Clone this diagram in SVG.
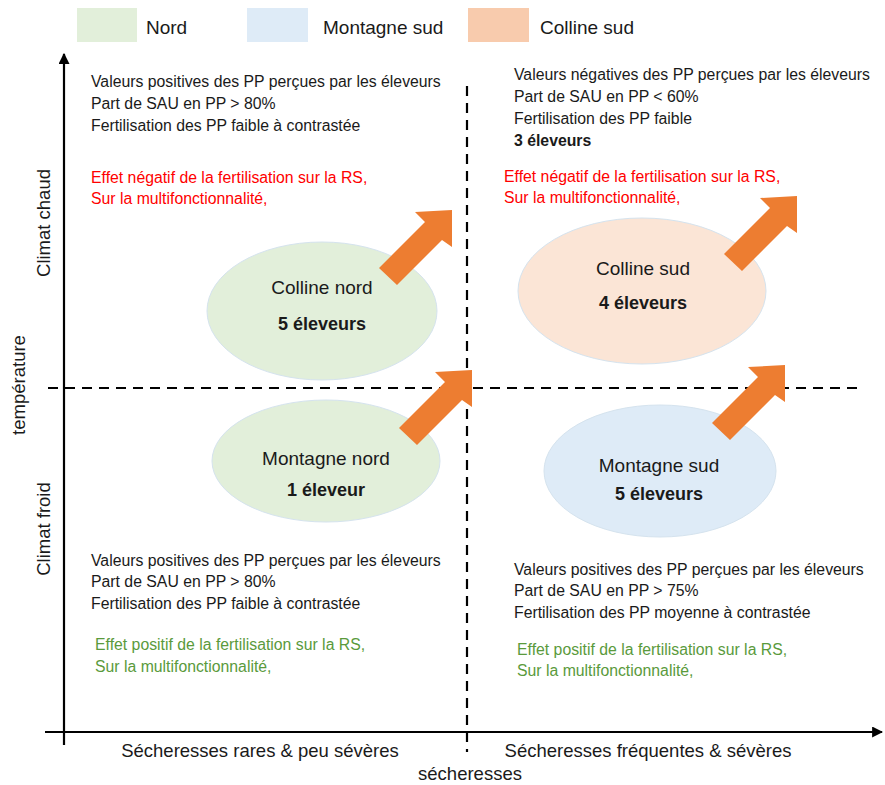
<svg xmlns="http://www.w3.org/2000/svg" width="885" height="785" viewBox="0 0 885 785">
<style>
text{font-family:"Liberation Sans",Arial,sans-serif;fill:#1a1a1a}
.t{font-size:15.8px}
.red{fill:#ff0000}
.grn{fill:#5a9a3c}
.lbl{font-size:18.5px}
.leg{font-size:19px}
.el{font-size:19px}
.b{font-weight:bold;font-size:18px}
.tb{font-weight:bold}
.ax{stroke:#000;stroke-width:2.2;fill:none}
.dash{stroke:#000;stroke-width:2.2;stroke-dasharray:10 7;fill:none}
.arr{fill:#ed7d31}
.eg{fill:#e2efda;stroke:#d5e3ee;stroke-width:1}
.eb{fill:#deebf7;stroke:#d5e3ee;stroke-width:1}
.ep{fill:#fbe5d6;stroke:#d5e3ee;stroke-width:1}
</style>
<defs>
<marker id="ah" viewBox="0 0 10 10" refX="9" refY="5" markerWidth="5" markerHeight="5" orient="auto" markerUnits="strokeWidth">
<path d="M0,0 L10,5 L0,10 z" fill="#000"/>
</marker>
<path id="bigarrow" d="M0,0 L-37,2 L-27,12 L-73,58 L-55,75 L-10,30 L0,37 Z"/>
</defs>
<rect width="885" height="785" fill="#fff"/>

<g id="legend">
<rect x="77" y="8" width="60" height="34" fill="#e2efda"/>
<text x="146" y="34" class="leg">Nord</text>
<rect x="247" y="8" width="61" height="34" fill="#deebf7"/>
<text x="323" y="34" class="leg">Montagne sud</text>
<rect x="468" y="8" width="61" height="34" fill="#f8cbad"/>
<text x="540" y="34" class="leg">Colline sud</text>
</g>

<g id="connectors">
<line class="ax" x1="64" y1="745" x2="64" y2="54" marker-end="url(#ah)"/>
<line class="ax" x1="45" y1="732" x2="882" y2="732" marker-end="url(#ah)"/>
<line class="dash" x1="48" y1="388" x2="860" y2="388"/>
<line class="dash" x1="467" y1="86" x2="467" y2="752"/>
</g>

<g id="axis-labels">
<text class="lbl" text-anchor="middle" transform="translate(50,223) rotate(-90)">Climat chaud</text>
<text class="lbl" text-anchor="middle" transform="translate(25,385) rotate(-90)">température</text>
<text class="lbl" text-anchor="middle" transform="translate(50,529) rotate(-90)">Climat froid</text>
<text class="lbl" x="260" y="757" text-anchor="middle">Sécheresses rares &amp; peu sévères</text>
<text class="lbl" x="648" y="757" text-anchor="middle">Sécheresses fréquentes &amp; sévères</text>
<text class="lbl" x="470" y="780" text-anchor="middle">sécheresses</text>
</g>

<g id="colline-nord">
<ellipse class="eg" cx="322" cy="311" rx="115" ry="69"/>
<text class="el" x="322" y="294" text-anchor="middle">Colline nord</text>
<text class="b" x="322" y="330" text-anchor="middle">5 éleveurs</text>
<use href="#bigarrow" class="arr" x="452" y="210"/>
</g>

<g id="montagne-nord">
<ellipse class="eg" cx="326" cy="461" rx="114" ry="61"/>
<text class="el" x="326" y="465" text-anchor="middle">Montagne nord</text>
<text class="b" x="326" y="496" text-anchor="middle">1 éleveur</text>
<use href="#bigarrow" class="arr" x="472" y="370"/>
</g>

<g id="colline-sud">
<ellipse class="ep" cx="642" cy="291" rx="124" ry="73"/>
<text class="el" x="643" y="275" text-anchor="middle">Colline sud</text>
<text class="b" x="643" y="309" text-anchor="middle">4 éleveurs</text>
<use href="#bigarrow" class="arr" x="797" y="196"/>
</g>

<g id="montagne-sud">
<ellipse class="eb" cx="660" cy="471" rx="116" ry="66"/>
<text class="el" x="659" y="472" text-anchor="middle">Montagne sud</text>
<text class="b" x="659" y="500" text-anchor="middle">5 éleveurs</text>
<use href="#bigarrow" class="arr" x="785" y="365"/>
</g>

<g id="text-top-left">
<text class="t" x="91" y="87">Valeurs positives des PP perçues par les éleveurs</text>
<text class="t" x="91" y="109">Part de SAU en PP &gt; 80%</text>
<text class="t" x="91" y="131">Fertilisation des PP faible à contrastée</text>
<text class="t red" x="91" y="183">Effet négatif de la fertilisation sur la RS,</text>
<text class="t red" x="91" y="204">Sur la multifonctionnalité,</text>
</g>

<g id="text-top-right">
<text class="t" x="514" y="80">Valeurs négatives des PP perçues par les éleveurs</text>
<text class="t" x="514" y="102">Part de SAU en PP &lt; 60%</text>
<text class="t" x="514" y="124">Fertilisation des PP faible</text>
<text class="t tb" x="514" y="146">3 éleveurs</text>
<text class="t red" x="504" y="182">Effet négatif de la fertilisation sur la RS,</text>
<text class="t red" x="504" y="203">Sur la multifonctionnalité,</text>
</g>

<g id="text-bottom-left">
<text class="t" x="91" y="566">Valeurs positives des PP perçues par les éleveurs</text>
<text class="t" x="91" y="587">Part de SAU en PP &gt; 80%</text>
<text class="t" x="91" y="609">Fertilisation des PP faible à contrastée</text>
<text class="t grn" x="95" y="650">Effet positif de la fertilisation sur la RS,</text>
<text class="t grn" x="95" y="672">Sur la multifonctionnalité,</text>
</g>

<g id="text-bottom-right">
<text class="t" x="514" y="575">Valeurs positives des PP perçues par les éleveurs</text>
<text class="t" x="514" y="596">Part de SAU en PP &gt; 75%</text>
<text class="t" x="514" y="618">Fertilisation des PP moyenne à contrastée</text>
<text class="t grn" x="517" y="655">Effet positif de la fertilisation sur la RS,</text>
<text class="t grn" x="517" y="676">Sur la multifonctionnalité,</text>
</g>
</svg>
